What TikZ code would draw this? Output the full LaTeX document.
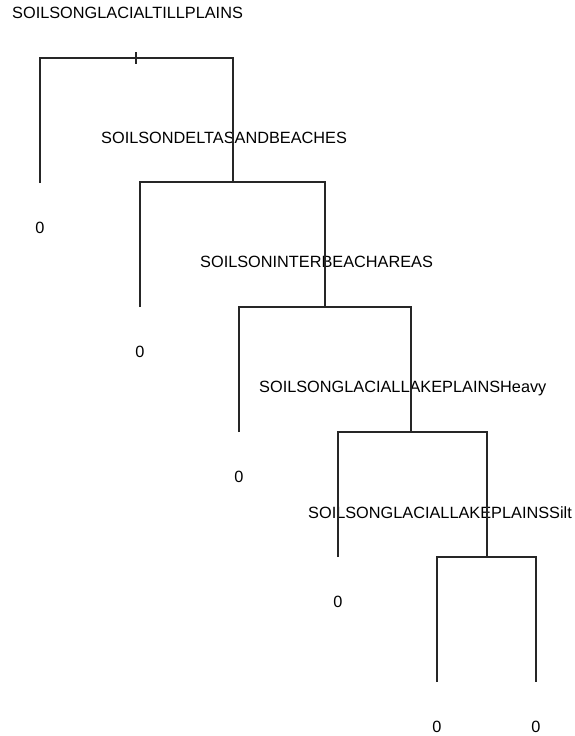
\documentclass[tikz,border=0pt]{standalone}
\usepackage{fontspec}
\setmainfont{Liberation Sans}
\begin{document}
\begin{tikzpicture}[x=1pt,y=-1pt,
  edge/.style={draw=black!85,line width=1.1pt},
  lbl/.style={anchor=base west,inner sep=0pt,font=\fontsize{16.3}{19}\selectfont},
  zero/.style={inner sep=0pt,font=\fontsize{16.3}{19}\selectfont}]
\useasboundingbox (0,0) rectangle (575,736);
\clip (0,0) rectangle (575,736);
% labels
\node[lbl] (t1) at (12,18) {SOILSONGLACIALTILLPLAINS};
\node[lbl] (t2) at (101,143) {SOILSONDELTASANDBEACHES};
\node[lbl] (t3) at (200,267) {SOILSONINTERBEACHAREAS};
\node[lbl] (t4) at (259,392) {SOILSONGLACIALLAKEPLAINSHeavy};
\node[lbl] (t5) at (308,518) {SOILSONGLACIALLAKEPLAINSSilt};
% junction coordinates
\coordinate (a1) at (40,58);  \coordinate (b1) at (233,58);
\coordinate (a2) at (140,182); \coordinate (b2) at (325,182);
\coordinate (a3) at (239,307); \coordinate (b3) at (411,307);
\coordinate (a4) at (338,432); \coordinate (b4) at (487,432);
\coordinate (a5) at (437,557); \coordinate (b5) at (536,557);
\coordinate (l1) at (40,183);
\coordinate (l2) at (140,307);
\coordinate (l3) at (239,432);
\coordinate (l4) at (338,557);
\coordinate (l5) at (437,682);
\coordinate (l6) at (536,682);
\coordinate (k1) at (136,52); \coordinate (k2) at (136,64);
% zeros
\node[zero] (z1) at (40,228) {0};
\node[zero] (z2) at (140,352) {0};
\node[zero] (z3) at (239,477) {0};
\node[zero] (z4) at (338,602) {0};
\node[zero] (z5) at (437,727) {0};
\node[zero] (z6) at (536,727) {0};
% tree
\path[edge] (l1) -- (a1) -- (b1) -- (a2 -| b1);
\draw[edge] (k1) -- (k2);
\path[edge] (l2) -- (a2) -- (b2) -- (a3 -| b2);
\path[edge] (l3) -- (a3) -- (b3) -- (a4 -| b3);
\path[edge] (l4) -- (a4) -- (b4) -- (a5 -| b4);
\path[edge] (l5) -- (a5) -- (b5) -- (l6);
\end{tikzpicture}
\end{document}
